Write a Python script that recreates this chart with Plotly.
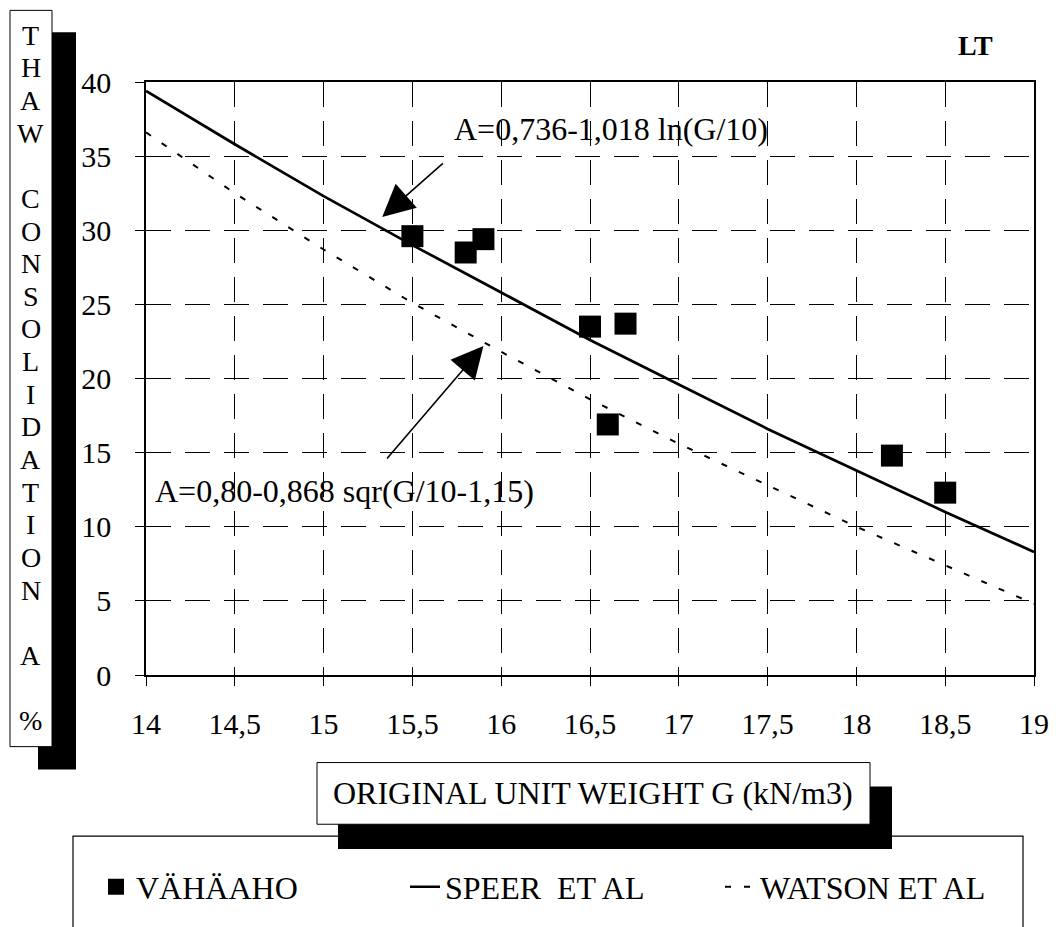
import plotly.graph_objects as go

# ---------------- data ----------------
g_points = [15.5, 15.8, 15.9, 16.5, 16.7, 16.6, 18.2, 18.5]
a_points = [29.6, 28.5, 29.4, 23.5, 23.7, 16.9, 14.8, 12.3]

g_curve = [14.0, 14.5, 15.0, 15.5, 16.0, 16.5, 17.0, 17.5, 18.0, 18.5, 19.0]
speer = [39.4, 35.8, 32.3, 29.0, 25.8, 22.6, 19.6, 16.6, 13.8, 11.0, 8.3]
watson = [36.6, 32.5, 28.7, 25.1, 21.8, 18.6, 15.6, 12.8, 10.0, 7.4, 4.8]

x_ticks = [14, 14.5, 15, 15.5, 16, 16.5, 17, 17.5, 18, 18.5, 19]
x_tick_labels = ["14", "14,5", "15", "15,5", "16", "16,5", "17", "17,5", "18", "18,5", "19"]
y_ticks = [0, 5, 10, 15, 20, 25, 30, 35, 40]
y_tick_labels = ["0", "5", "10", "15", "20", "25", "30", "35", "40"]

series_names = ["VÄHÄAHO", "SPEER  ET AL", "WATSON ET AL"]
y_title_rows = ["T", "H", "A", "W", "", "C", "O", "N", "S", "O", "L", "I", "D",
                "A", "T", "I", "O", "N", "", "A", "", "%"]
x_title = "ORIGINAL UNIT WEIGHT G (kN/m3)"
eq_speer = "A=0,736-1,018 ln(G/10)"
eq_watson = "A=0,80-0,868 sqr(G/10-1,15)"

# ---------------- layout geometry (pixels) ----------------
FW, FH = 1064, 927
L, R, T, B = 146, 1034, 82, 678
PW, PH = R - L, B - T
SERIF = "Liberation Serif, Times New Roman, serif"


def px(xp):
    return (xp - L) / PW


def py(yp):
    return (B - yp) / PH


fig = go.Figure()

fig.add_trace(go.Scatter(
    x=g_curve, y=speer, mode="lines", name=series_names[1],
    line=dict(color="black", width=2.7), legend="legend2"))
fig.add_trace(go.Scatter(
    x=g_curve, y=watson, mode="lines", name=series_names[2],
    line=dict(color="black", width=2, dash="6px,13px"), legend="legend3"))
fig.add_trace(go.Scatter(
    x=g_points, y=a_points, mode="markers", name=series_names[0],
    marker=dict(symbol="square", size=22, color="black", line=dict(width=0)),
    legend="legend"))

shapes = []
# legend frame
shapes.append(dict(type="rect", xref="paper", yref="paper",
                   x0=px(73), x1=px(1023), y0=py(960), y1=py(840),
                   line=dict(color="black", width=1.2), fillcolor="white", layer="below"))
# x title shadow + box
shapes.append(dict(type="rect", xref="paper", yref="paper",
                   x0=px(338), x1=px(892), y0=py(853), y1=py(790),
                   line=dict(width=0), fillcolor="black", layer="below"))
shapes.append(dict(type="rect", xref="paper", yref="paper",
                   x0=px(317), x1=px(870), y0=py(828), y1=py(766),
                   line=dict(color="black", width=1), fillcolor="white", layer="below"))
# y title shadow + box
shapes.append(dict(type="rect", xref="paper", yref="paper",
                   x0=px(38), x1=px(76), y0=py(773), y1=py(32),
                   line=dict(width=0), fillcolor="black", layer="below"))
shapes.append(dict(type="rect", xref="paper", yref="paper",
                   x0=px(10), x1=px(52), y0=py(750), y1=py(10),
                   line=dict(color="black", width=1), fillcolor="white", layer="below"))

annotations = []
# vertical stacked y title
row0, row_step = 35, 32.8
for i, ch in enumerate(y_title_rows):
    if not ch:
        continue
    annotations.append(dict(text=ch, xref="paper", yref="paper", x=px(31), y=py(row0 + i * row_step),
                            xanchor="center", yanchor="middle", showarrow=False,
                            font=dict(family=SERIF, size=28, color="black")))
# x title
annotations.append(dict(text=x_title, xref="paper", yref="paper", x=px(593), y=py(797),
                        xanchor="center", yanchor="middle", showarrow=False,
                        font=dict(family=SERIF, size=32, color="black")))
# LT
annotations.append(dict(text="<b>LT</b>", xref="paper", yref="paper", x=px(975), y=py(45),
                        xanchor="center", yanchor="middle", showarrow=False,
                        font=dict(family=SERIF, size=28, color="black")))
# equations
annotations.append(dict(text=eq_speer, x=16.62, y=36.8, xref="x", yref="y",
                        showarrow=False, xanchor="center", yanchor="middle",
                        font=dict(family=SERIF, size=32, color="black")))
annotations.append(dict(text=eq_watson, x=15.12, y=12.4, xref="x", yref="y",
                        showarrow=False, xanchor="center", yanchor="middle",
                        font=dict(family=SERIF, size=32, color="black")))
# arrows
annotations.append(dict(text="", x=15.33, y=30.9, ax=15.68, ay=34.6, xref="x", yref="y",
                        axref="x", ayref="y", showarrow=True, arrowhead=2, arrowsize=4,
                        arrowwidth=1.6, arrowcolor="black", standoff=0))
annotations.append(dict(text="", x=15.90, y=22.2, ax=15.35, ay=14.5, xref="x", yref="y",
                        axref="x", ayref="y", showarrow=True, arrowhead=2, arrowsize=4,
                        arrowwidth=1.6, arrowcolor="black", standoff=0))

leg_font = dict(family=SERIF, size=32, color="black")
leg_common = dict(orientation="h", yanchor="middle", xanchor="left", bgcolor="rgba(0,0,0,0)",
                  borderwidth=0, font=leg_font, itemsizing="trace")

fig.update_layout(
    width=FW, height=FH,
    margin=dict(l=L, r=FW - R, t=T, b=FH - B),
    paper_bgcolor="white", plot_bgcolor="white",
    separators=", ",
    showlegend=True,
    legend=dict(x=px(96), y=py(891), **leg_common),
    legend2=dict(x=px(405), y=py(891), **leg_common),
    legend3=dict(x=px(720), y=py(891), **leg_common),
    shapes=shapes,
    annotations=annotations,
    font=dict(family=SERIF, color="black"),
)

axis_common = dict(
    showline=True, linecolor="black", linewidth=1.6, mirror=True,
    ticks="outside", ticklen=9, tickcolor="black", tickwidth=1.2,
    showgrid=True, gridcolor="black", gridwidth=1.3, griddash="25px,14px",
    zeroline=False,
    tickfont=dict(family=SERIF, size=30, color="black"),
)

fig.update_xaxes(range=[14, 19], tickvals=x_ticks, ticktext=x_tick_labels,
                 ticklabelstandoff=12, **axis_common)
fig.update_yaxes(range=[0, 40], tickvals=y_ticks, ticktext=y_tick_labels,
                 ticklabelstandoff=18, **axis_common)

fig.write_html("out.html")
